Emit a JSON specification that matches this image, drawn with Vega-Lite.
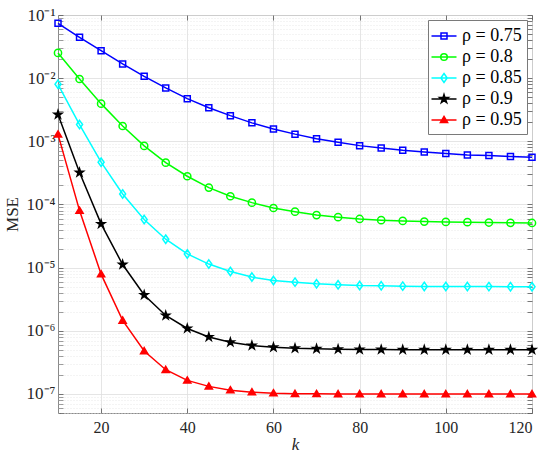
{
  "$schema": "https://vega.github.io/schema/vega-lite/v6.json",
  "width": 474,
  "height": 398,
  "autosize": {"type": "none"},
  "padding": {"left": 58, "top": 15, "right": 18, "bottom": 47},
  "background": "white",
  "config": {
    "view": {"stroke": "#8a8a8a", "strokeWidth": 1},
    "font": "Liberation Serif",
    "axis": {"labelFont": "Liberation Serif", "titleFont": "Liberation Serif", "labelColor": "#262626", "titleColor": "#262626", "domain": false, "tickColor": "#555555", "tickWidth": 0.8},
    "legend": {"labelFont": "Liberation Serif"}
  },
  "data": {"values": [
    {"k":10,"s":"ρ = 0.75","v":7.4e-2},{"k":15,"s":"ρ = 0.75","v":4.44e-2},{"k":20,"s":"ρ = 0.75","v":2.72e-2},{"k":25,"s":"ρ = 0.75","v":1.68e-2},{"k":30,"s":"ρ = 0.75","v":1.07e-2},{"k":35,"s":"ρ = 0.75","v":7.0e-3},{"k":40,"s":"ρ = 0.75","v":4.74e-3},{"k":45,"s":"ρ = 0.75","v":3.41e-3},{"k":50,"s":"ρ = 0.75","v":2.55e-3},{"k":55,"s":"ρ = 0.75","v":1.96e-3},{"k":60,"s":"ρ = 0.75","v":1.57e-3},{"k":65,"s":"ρ = 0.75","v":1.30e-3},{"k":70,"s":"ρ = 0.75","v":1.10e-3},{"k":75,"s":"ρ = 0.75","v":9.68e-4},{"k":80,"s":"ρ = 0.75","v":8.55e-4},{"k":85,"s":"ρ = 0.75","v":7.87e-4},{"k":90,"s":"ρ = 0.75","v":7.23e-4},{"k":95,"s":"ρ = 0.75","v":6.80e-4},{"k":100,"s":"ρ = 0.75","v":6.39e-4},{"k":105,"s":"ρ = 0.75","v":6.09e-4},{"k":110,"s":"ρ = 0.75","v":5.94e-4},{"k":115,"s":"ρ = 0.75","v":5.73e-4},{"k":120,"s":"ρ = 0.75","v":5.60e-4},
    {"k":10,"s":"ρ = 0.8","v":2.51e-2},{"k":15,"s":"ρ = 0.8","v":9.7e-3},{"k":20,"s":"ρ = 0.8","v":3.95e-3},{"k":25,"s":"ρ = 0.8","v":1.75e-3},{"k":30,"s":"ρ = 0.8","v":8.46e-4},{"k":35,"s":"ρ = 0.8","v":4.6e-4},{"k":40,"s":"ρ = 0.8","v":2.8e-4},{"k":45,"s":"ρ = 0.8","v":1.85e-4},{"k":50,"s":"ρ = 0.8","v":1.35e-4},{"k":55,"s":"ρ = 0.8","v":1.07e-4},{"k":60,"s":"ρ = 0.8","v":8.8e-5},{"k":65,"s":"ρ = 0.8","v":7.7e-5},{"k":70,"s":"ρ = 0.8","v":6.8e-5},{"k":75,"s":"ρ = 0.8","v":6.3e-5},{"k":80,"s":"ρ = 0.8","v":5.9e-5},{"k":85,"s":"ρ = 0.8","v":5.65e-5},{"k":90,"s":"ρ = 0.8","v":5.5e-5},{"k":95,"s":"ρ = 0.8","v":5.36e-5},{"k":100,"s":"ρ = 0.8","v":5.3e-5},{"k":105,"s":"ρ = 0.8","v":5.25e-5},{"k":110,"s":"ρ = 0.8","v":5.18e-5},{"k":115,"s":"ρ = 0.8","v":5.12e-5},{"k":120,"s":"ρ = 0.8","v":5.1e-5},
    {"k":10,"s":"ρ = 0.85","v":8.0e-3},{"k":15,"s":"ρ = 0.85","v":1.84e-3},{"k":20,"s":"ρ = 0.85","v":4.67e-4},{"k":25,"s":"ρ = 0.85","v":1.47e-4},{"k":30,"s":"ρ = 0.85","v":5.77e-5},{"k":35,"s":"ρ = 0.85","v":2.82e-5},{"k":40,"s":"ρ = 0.85","v":1.65e-5},{"k":45,"s":"ρ = 0.85","v":1.14e-5},{"k":50,"s":"ρ = 0.85","v":8.7e-6},{"k":55,"s":"ρ = 0.85","v":7.1e-6},{"k":60,"s":"ρ = 0.85","v":6.25e-6},{"k":65,"s":"ρ = 0.85","v":5.9e-6},{"k":70,"s":"ρ = 0.85","v":5.55e-6},{"k":75,"s":"ρ = 0.85","v":5.35e-6},{"k":80,"s":"ρ = 0.85","v":5.2e-6},{"k":85,"s":"ρ = 0.85","v":5.15e-6},{"k":90,"s":"ρ = 0.85","v":5.1e-6},{"k":95,"s":"ρ = 0.85","v":5.05e-6},{"k":100,"s":"ρ = 0.85","v":5.03e-6},{"k":105,"s":"ρ = 0.85","v":5.02e-6},{"k":110,"s":"ρ = 0.85","v":5.01e-6},{"k":115,"s":"ρ = 0.85","v":5.0e-6},{"k":120,"s":"ρ = 0.85","v":5.0e-6},
    {"k":10,"s":"ρ = 0.9","v":2.65e-3},{"k":15,"s":"ρ = 0.9","v":3.2e-4},{"k":20,"s":"ρ = 0.9","v":4.93e-5},{"k":25,"s":"ρ = 0.9","v":1.12e-5},{"k":30,"s":"ρ = 0.9","v":3.7e-6},{"k":35,"s":"ρ = 0.9","v":1.75e-6},{"k":40,"s":"ρ = 0.9","v":1.09e-6},{"k":45,"s":"ρ = 0.9","v":8.0e-7},{"k":50,"s":"ρ = 0.9","v":6.6e-7},{"k":55,"s":"ρ = 0.9","v":5.85e-7},{"k":60,"s":"ρ = 0.9","v":5.5e-7},{"k":65,"s":"ρ = 0.9","v":5.3e-7},{"k":70,"s":"ρ = 0.9","v":5.2e-7},{"k":75,"s":"ρ = 0.9","v":5.12e-7},{"k":80,"s":"ρ = 0.9","v":5.06e-7},{"k":85,"s":"ρ = 0.9","v":5.04e-7},{"k":90,"s":"ρ = 0.9","v":5.03e-7},{"k":95,"s":"ρ = 0.9","v":5.02e-7},{"k":100,"s":"ρ = 0.9","v":5.01e-7},{"k":105,"s":"ρ = 0.9","v":5.0e-7},{"k":110,"s":"ρ = 0.9","v":5.0e-7},{"k":115,"s":"ρ = 0.9","v":5.0e-7},{"k":120,"s":"ρ = 0.9","v":5.0e-7},
    {"k":10,"s":"ρ = 0.95","v":1.29e-3},{"k":15,"s":"ρ = 0.95","v":8.0e-5},{"k":20,"s":"ρ = 0.95","v":7.9e-6},{"k":25,"s":"ρ = 0.95","v":1.46e-6},{"k":30,"s":"ρ = 0.95","v":4.8e-7},{"k":35,"s":"ρ = 0.95","v":2.42e-7},{"k":40,"s":"ρ = 0.95","v":1.64e-7},{"k":45,"s":"ρ = 0.95","v":1.32e-7},{"k":50,"s":"ρ = 0.95","v":1.15e-7},{"k":55,"s":"ρ = 0.95","v":1.07e-7},{"k":60,"s":"ρ = 0.95","v":1.03e-7},{"k":65,"s":"ρ = 0.95","v":1.01e-7},{"k":70,"s":"ρ = 0.95","v":1.005e-7},{"k":75,"s":"ρ = 0.95","v":1.0e-7},{"k":80,"s":"ρ = 0.95","v":1.0e-7},{"k":85,"s":"ρ = 0.95","v":1.0e-7},{"k":90,"s":"ρ = 0.95","v":1.0e-7},{"k":95,"s":"ρ = 0.95","v":1.0e-7},{"k":100,"s":"ρ = 0.95","v":1.0e-7},{"k":105,"s":"ρ = 0.95","v":1.0e-7},{"k":110,"s":"ρ = 0.95","v":1.0e-7},{"k":115,"s":"ρ = 0.95","v":1.0e-7},{"k":120,"s":"ρ = 0.95","v":1.0e-7}
  ]},
  "resolve": {"axis": {"x": "independent", "y": "independent"}},
  "layer": [
    {
      "mark": {"type": "line", "strokeWidth": 1.5},
      "encoding": {
        "x": {"field": "k", "type": "quantitative",
          "scale": {"domain": [10, 120], "nice": false, "zero": false},
          "axis": {"orient": "bottom", "values": [20, 40, 60, 80, 100, 120], "grid": true, "gridColor": "#dedede", "gridWidth": 0.8,
            "tickSize": -5, "labelPadding": 11, "labelFont": "Liberation Serif", "labelFontSize": 16, "title": "k", "titleFont": "Liberation Serif", "titleFontSize": 17, "titleFontStyle": "italic", "titleFontWeight": "normal", "titlePadding": 1}},
        "y": {"field": "v", "type": "quantitative",
          "scale": {"type": "log", "domain": [5e-8, 0.1], "nice": false},
          "axis": {"orient": "left", "title": "MSE", "titleFont": "Liberation Serif", "titleFontSize": 17, "titleFontWeight": "normal", "titlePadding": 5,
            "values": [5e-8,6e-8,7e-8,8e-8,9e-8,1e-7,2e-7,3e-7,4e-7,5e-7,6e-7,7e-7,8e-7,9e-7,1e-6,2e-6,3e-6,4e-6,5e-6,6e-6,7e-6,8e-6,9e-6,1e-5,2e-5,3e-5,4e-5,5e-5,6e-5,7e-5,8e-5,9e-5,1e-4,2e-4,3e-4,4e-4,5e-4,6e-4,7e-4,8e-4,9e-4,1e-3,2e-3,3e-3,4e-3,5e-3,6e-3,7e-3,8e-3,9e-3,1e-2,2e-2,3e-2,4e-2,5e-2,6e-2,7e-2,8e-2,9e-2,1e-1],
            "labelExpr": "abs(log(datum.value)/LN10 - round(log(datum.value)/LN10)) < 1e-6 ? '10⁻' + substring('¹²³⁴⁵⁶⁷⁸', -round(log(datum.value)/LN10) - 1, -round(log(datum.value)/LN10)) : ''",
            "labelFont": "Liberation Serif", "labelFontSize": 17, "labelPadding": 8, "labelOverlap": false,
            "tickSize": -5,
            "tickOpacity": {"condition": {"test": "abs(log(datum.value)/LN10 - round(log(datum.value)/LN10)) < 1e-6", "value": 1}, "value": 0.7},
            "grid": true,
            "gridColor": {"condition": {"test": "abs(log(datum.value)/LN10 - round(log(datum.value)/LN10)) < 1e-6", "value": "#dedede"}, "value": "#e2e2e2"},
            "gridDash": {"condition": {"test": "abs(log(datum.value)/LN10 - round(log(datum.value)/LN10)) < 1e-6", "value": []}, "value": [1, 2]},
            "gridWidth": 0.8}},
        "color": {"field": "s", "type": "nominal",
          "scale": {"domain": ["ρ = 0.75", "ρ = 0.8", "ρ = 0.85", "ρ = 0.9", "ρ = 0.95"], "range": ["#0000ff", "#00ff00", "#00ffff", "#000000", "#ff0000"]},
          "legend": {"title": null, "orient": "top-right", "offset": 5, "padding": 5, "strokeColor": "#7a7a7a", "fillColor": "white",
            "labelFont": "Liberation Serif", "labelFontSize": 18, "labelColor": "#000000", "labelOffset": 7, "rowPadding": 1,
            "symbolSize": 400, "symbolStrokeWidth": 1.5,
            "encode": {"symbols": {"update": {
              "shape": {"signal": "datum.value === 'ρ = 0.75' ? 'M-1.25,0L1.25,0M-0.3,-0.3L0.3,-0.3L0.3,0.3L-0.3,0.3Z' : datum.value === 'ρ = 0.8' ? 'M-1.25,0L1.25,0M0.33,0A0.33,0.33,0,1,1,-0.33,0A0.33,0.33,0,1,1,0.33,0Z' : datum.value === 'ρ = 0.85' ? 'M-1.25,0L1.25,0M0,-0.45L0.32,0L0,0.45L-0.32,0Z' : datum.value === 'ρ = 0.9' ? 'M-1.25,0L1.25,0M0,-0.45L0.101,-0.139L0.428,-0.139L0.164,0.053L0.264,0.364L0,0.172L-0.264,0.364L-0.164,0.053L-0.428,-0.139L-0.101,-0.139Z' : 'M-1.25,0L1.25,0M0,-0.36L0.36,0.26L-0.36,0.26Z'"},
              "fill": {"signal": "datum.value === 'ρ = 0.9' ? '#000000' : datum.value === 'ρ = 0.95' ? '#ff0000' : 'transparent'"},
              "stroke": {"signal": "datum.value === 'ρ = 0.75' ? '#0000ff' : datum.value === 'ρ = 0.8' ? '#00ff00' : datum.value === 'ρ = 0.85' ? '#00ffff' : datum.value === 'ρ = 0.9' ? '#000000' : '#ff0000'"},
              "strokeWidth": {"value": 1.5}
            }}}}}
      }
    },
    {
      "mark": {"type": "point", "filled": false, "strokeWidth": 1.5, "opacity": 1, "size": 36},
      "encoding": {
        "x": {"field": "k", "type": "quantitative",
          "axis": {"orient": "top", "values": [20, 40, 60, 80, 100, 120], "labels": false, "grid": false, "tickSize": -5, "title": null}},
        "y": {"field": "v", "type": "quantitative",
          "axis": {"orient": "right", "labels": false, "grid": false, "title": null, "tickSize": -5,
            "values": [5e-8,6e-8,7e-8,8e-8,9e-8,1e-7,2e-7,3e-7,4e-7,5e-7,6e-7,7e-7,8e-7,9e-7,1e-6,2e-6,3e-6,4e-6,5e-6,6e-6,7e-6,8e-6,9e-6,1e-5,2e-5,3e-5,4e-5,5e-5,6e-5,7e-5,8e-5,9e-5,1e-4,2e-4,3e-4,4e-4,5e-4,6e-4,7e-4,8e-4,9e-4,1e-3,2e-3,3e-3,4e-3,5e-3,6e-3,7e-3,8e-3,9e-3,1e-2,2e-2,3e-2,4e-2,5e-2,6e-2,7e-2,8e-2,9e-2,1e-1]}},
        "color": {"field": "s", "type": "nominal"},
        "shape": {"field": "s", "type": "nominal", "legend": null,
          "scale": {"domain": ["ρ = 0.95", "ρ = 0.9", "ρ = 0.85", "ρ = 0.8", "ρ = 0.75"],
            "range": ["M0,-1.15L1.2,0.9L-1.2,0.9Z", "M0,-1.35L0.303,-0.417L1.284,-0.417L0.491,0.159L0.794,1.092L0,0.516L-0.794,1.092L-0.491,0.159L-1.284,-0.417L-0.303,-0.417Z", "M0,-1.4L1,0L0,1.4L-1,0Z", "M1.2,0A1.2,1.2,0,1,1,-1.2,0A1.2,1.2,0,1,1,1.2,0Z", "M-1,-1L1,-1L1,1L-1,1Z"]}},
        "fill": {"field": "s", "type": "nominal", "legend": null,
          "scale": {"domain": ["ρ = 0.95", "ρ = 0.9", "ρ = 0.85", "ρ = 0.8", "ρ = 0.75"], "range": ["#ff0000", "#000000", "transparent", "transparent", "transparent"]}}
      }
    }
  ]
}
